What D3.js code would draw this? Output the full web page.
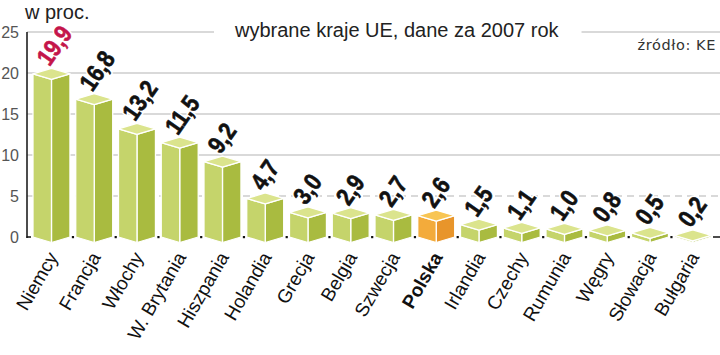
<!DOCTYPE html>
<html><head><meta charset="utf-8">
<script src="https://cdn.jsdelivr.net/npm/d3@7"></script>
<style>body{margin:0;background:#fff}svg{display:block}</style>
</head><body>
<svg id="c" width="720" height="355"></svg>
<script>
const categories = ["Niemcy","Francja","Włochy","W. Brytania","Hiszpania","Holandia","Grecja","Belgia","Szwecja","Polska","Irlandia","Czechy","Rumunia","Węgry","Słowacja","Bułgaria"];
const values = [19.9,16.8,13.2,11.5,9.2,4.7,3.0,2.9,2.7,2.6,1.5,1.1,1.0,0.8,0.5,0.2];
const yTicks = [0,5,10,15,20,25];
const highlight = "Polska";
const topValue = "Niemcy";
const titleText = "wybrane kraje UE, dane za 2007 rok";
const unitText = "w proc.";
const sourceText = "źródło: KE";

const FONT = "'Liberation Sans', Arial, sans-serif";
const svg = d3.select("#c");
const x = d3.scaleBand().domain(categories).range([30.1, 714.1]).paddingInner(0.135).paddingOuter(0.0675);
const y = d3.scaleLinear().domain([0,25]).range([237,32]);
const depth = 5.5;
const fmt = v => d3.format(".1f")(v).replace(".", ",");

// gridlines
const grid = svg.append("g");
yTicks.filter(t => t > 0).forEach(t => {
  grid.append("line").attr("x1", 27).attr("x2", 720).attr("y1", y(t)).attr("y2", y(t))
    .attr("stroke", "#b3b3b3").attr("stroke-width", 1.2)
    .attr("stroke-dasharray", t === 5 ? "7,5" : null);
});

// title with white gap in top line
const title = svg.append("text").attr("x", 235).attr("y", 37).attr("font-family", FONT)
  .attr("font-size", 20).attr("fill", "#222").text(titleText);
const tb = title.node().getBBox();
svg.insert("rect", "text").attr("x", tb.x - 20).attr("y", y(25) - 3).attr("width", tb.width + 42).attr("height", 6).attr("fill", "#fff");

svg.append("text").attr("x", 716).attr("y", 50).attr("text-anchor", "end").attr("font-family", "'DejaVu Sans', sans-serif")
  .attr("font-size", 14.5).attr("letter-spacing", 0.6).attr("fill", "#333").text(sourceText);
svg.append("text").attr("x", 25).attr("y", 19).attr("font-family", FONT)
  .attr("font-size", 20).attr("fill", "#222").text(unitText);

// y axis
const yAxis = d3.axisLeft(y).tickValues(yTicks).tickSize(0).tickPadding(8);
const ya = svg.append("g").attr("transform", "translate(27,0)").call(yAxis);
ya.select(".domain").remove();
ya.selectAll("text").attr("font-family", FONT).attr("font-size", 16).attr("fill", "#555");
svg.append("line").attr("x1", 27).attr("x2", 27).attr("y1", y(25)).attr("y2", y(0) + 1).attr("stroke", "#111").attr("stroke-width", 1.5);
svg.append("line").attr("x1", 26.5).attr("x2", 31).attr("y1", y(0)).attr("y2", y(0)).attr("stroke", "#111").attr("stroke-width", 1.5);
svg.append("line").attr("x1", 713).attr("x2", 720).attr("y1", y(0)).attr("y2", y(0)).attr("stroke", "#111").attr("stroke-width", 1.5);
// tick dots between bars
categories.slice(1).forEach(c => {
  const gx = x(c) - (x.step() - x.bandwidth()) / 2;
  svg.append("rect").attr("x", gx - 1).attr("y", y(0) - 1).attr("width", 2.2).attr("height", 2.2).attr("fill", "#111");
});

// bars
const palettes = {
  normal: {top: "#dbe48d", left: "#c5d46b", right: "#a9bb40"},
  hi: {top: "#f8c553", left: "#f3ab3b", right: "#e8952b"}
};
const bars = svg.append("g");
categories.forEach((c, i) => {
  const v = values[i];
  const p = c === highlight ? palettes.hi : palettes.normal;
  const x0 = x(c), x1 = x0 + x.bandwidth(), xm = x0 + x.bandwidth() / 2;
  const yt = y(v), yb = y(0);
  const g = bars.append("g");
  const poly = pts => pts.map(q => q.join(",")).join(" ");
  g.append("polygon").attr("points", poly([[xm, yt + depth], [x1, yt], [x1, yb], [xm, yb + depth]]))
    .attr("fill", p.right).attr("stroke", "#fff").attr("stroke-width", 1.3).attr("stroke-linejoin", "round");
  g.append("polygon").attr("points", poly([[x0, yt], [xm, yt + depth], [xm, yb + depth], [x0, yb]]))
    .attr("fill", p.left).attr("stroke", "#fff").attr("stroke-width", 1.3).attr("stroke-linejoin", "round");
  g.append("polygon").attr("points", poly([[x0, yt], [xm, yt - depth], [x1, yt], [xm, yt + depth]]))
    .attr("fill", p.top).attr("stroke", "#fff").attr("stroke-width", 1.3).attr("stroke-linejoin", "round");
});

// value labels
categories.forEach((c, i) => {
  const v = values[i];
  const xm = x(c) + x.bandwidth() / 2;
  const ly = y(v) - 6.5;
  const col = c === topValue ? "#c4154a" : "#111";
  const tr = `translate(${xm - 2},${ly}) rotate(-55) scale(0.85,1)`;
  svg.append("text").attr("transform", tr)
    .attr("font-family", FONT).attr("font-weight", "bold").attr("font-size", 25)
    .attr("fill", "#fff").attr("stroke", "#fff").attr("stroke-width", 4).attr("stroke-linejoin", "round")
    .text(fmt(v));
  svg.append("text").attr("transform", tr)
    .attr("font-family", FONT).attr("font-weight", "bold").attr("font-size", 25)
    .attr("fill", col).attr("stroke", col).attr("stroke-width", 0.6)
    .text(fmt(v));
});

// category labels
categories.forEach(c => {
  const xm = x(c) + x.bandwidth() / 2;
  svg.append("text").attr("transform", `translate(${xm + 7},${257}) rotate(-60)`)
    .attr("text-anchor", "end").attr("font-family", FONT).attr("font-size", 19)
    .attr("font-weight", c === highlight ? "bold" : "normal")
    .attr("fill", "#111").text(c);
});
</script>
</body></html>
